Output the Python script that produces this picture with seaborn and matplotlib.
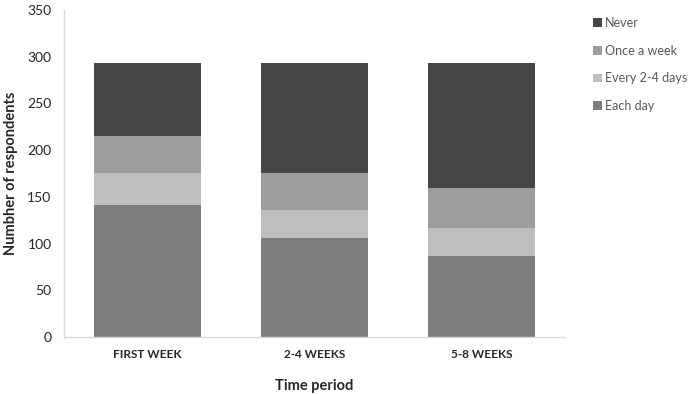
import matplotlib as mpl
mpl.use('Agg')
import matplotlib.pyplot as plt
import numpy as np
import seaborn as sns

# data
periods = ['FIRST WEEK', '2-4 WEEKS', '5-8 WEEKS']
each_day = [141, 106, 87]
every_2_4 = [34, 30, 30]
once_week = [40, 39, 42]
never = [78, 118, 134]

series = ['Each day', 'Every 2-4 days', 'Once a week', 'Never']
values = [each_day, every_2_4, once_week, never]
colors = ['#7c7d7f', '#bdbec0', '#9c9d9f', '#464648']

sns.set_style("white")
plt.rcParams['font.family'] = ['Lato', 'DejaVu Sans']

fig = plt.figure(figsize=(6.94, 3.94), dpi=100)
ax = fig.add_axes([0.0922, 0.1447, 0.722, 0.830])

# stacked bars: draw cumulative totals, tallest first
cum = np.cumsum(np.array(values), axis=0)
for i in reversed(range(len(series))):
    sns.barplot(x=periods, y=cum[i], color=colors[i], label=series[i],
                width=0.64, saturation=1, linewidth=0, ax=ax)

ax.set_ylim(0, 350)
ax.set_yticks(range(0, 351, 50))
ax.tick_params(axis='both', length=0)
ax.tick_params(axis='y', labelsize=10, labelcolor='#262626', pad=9)
ax.tick_params(axis='x', labelsize=8.5, labelcolor='#262626', pad=9)
for lab in ax.get_xticklabels():
    lab.set_fontweight('bold')

ax.set_xlabel('Time period', fontsize=10.5, fontweight='bold', labelpad=13)
ax.set_ylabel('Numbher of respondents', fontsize=10.5, fontweight='bold', labelpad=7)

for s in ['top', 'right']:
    ax.spines[s].set_visible(False)
for s in ['left', 'bottom']:
    ax.spines[s].set_color('#d9d9d9')
    ax.spines[s].set_linewidth(1)

leg = ax.legend(loc='upper left', bbox_to_anchor=(0.838, 0.985),
                bbox_transform=fig.transFigure, frameon=False,
                fontsize=9, handlelength=0.7, handleheight=0.7,
                handletextpad=0.3, labelspacing=1.25)
for t in leg.get_texts():
    t.set_color('#595959')

fig.savefig('out.png', dpi=100)
